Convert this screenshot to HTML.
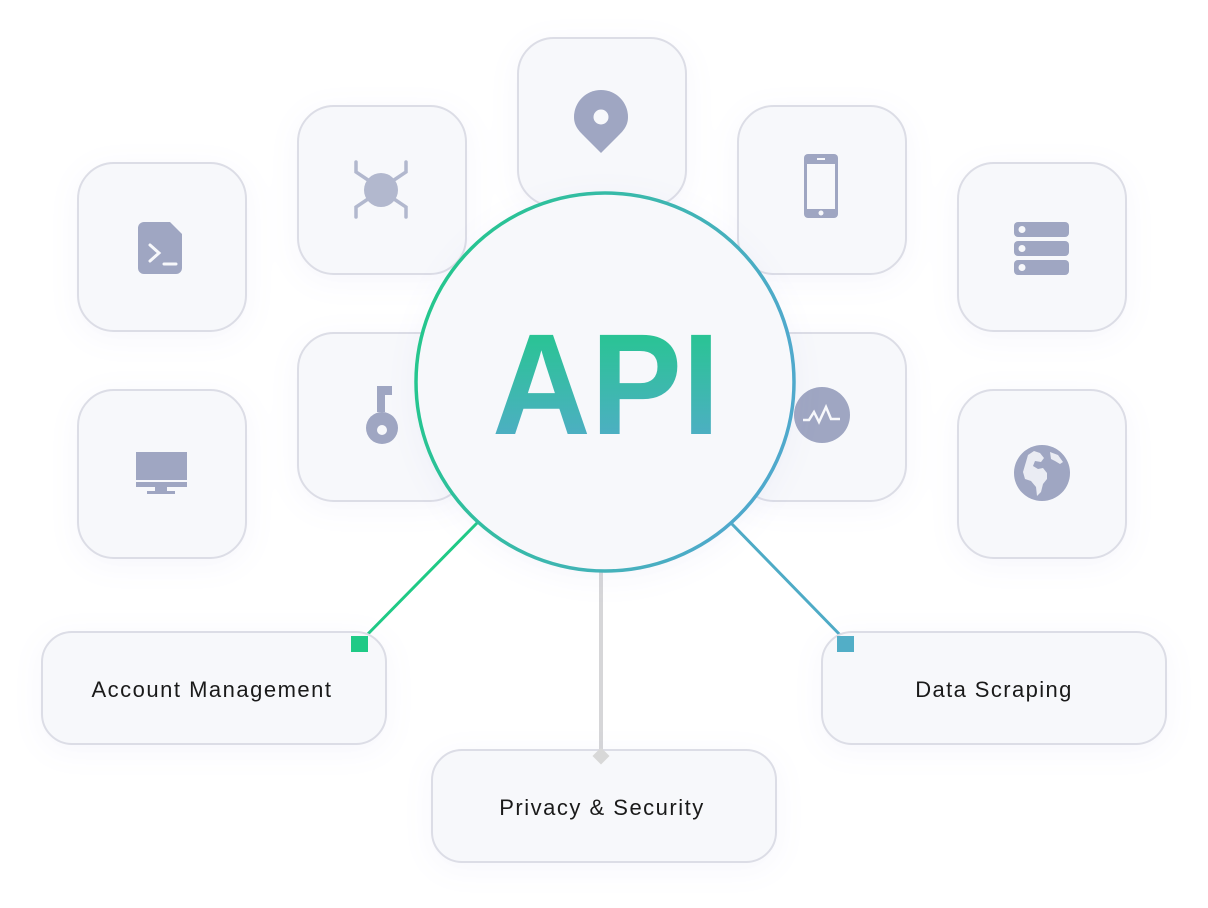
<!DOCTYPE html>
<html><head><meta charset="utf-8"><style>
html,body{margin:0;padding:0;background:#fff;}
svg{display:block}
text{font-family:"Liberation Sans",sans-serif;}
</style></head><body>
<svg width="1208" height="908" viewBox="0 0 1208 908" xmlns="http://www.w3.org/2000/svg">
<defs>
<filter id="sh" x="-30%" y="-30%" width="160%" height="160%"><feGaussianBlur in="SourceAlpha" stdDeviation="14"/><feOffset dy="6"/><feComponentTransfer><feFuncA type="linear" slope="0.1"/></feComponentTransfer><feColorMatrix type="matrix" values="0 0 0 0 0.35 0 0 0 0 0.35 0 0 0 0 0.7 0 0 0 1 0"/><feMerge><feMergeNode/><feMergeNode in="SourceGraphic"/></feMerge></filter>
<linearGradient id="cg" x1="0" y1="0" x2="1" y2="0.3"><stop offset="0" stop-color="#1fca86"/><stop offset="1" stop-color="#50a9cc"/></linearGradient>
<linearGradient id="tg" x1="0" y1="0" x2="0" y2="1"><stop offset="0" stop-color="#1fca86"/><stop offset="1" stop-color="#57a9d0"/></linearGradient>
<g id="card"><rect x="0" y="0" width="168" height="168" rx="36" fill="#f7f8fb" stroke="#dcdde6" stroke-width="2"/></g>
</defs>
<g filter="url(#sh)">
<use href="#card" x="78" y="163"/>
<use href="#card" x="78" y="390"/>
<use href="#card" x="298" y="106"/>
<use href="#card" x="298" y="333"/>
<use href="#card" x="518" y="38"/>
<use href="#card" x="738" y="106"/>
<use href="#card" x="738" y="333"/>
<use href="#card" x="958" y="163"/>
<use href="#card" x="958" y="390"/>
</g>
<g fill="#9fa6c2">
<path d="M144 222h26l12 12v34a6 6 0 0 1-6 6h-32a6 6 0 0 1-6-6v-40a6 6 0 0 1 6-6z"/>
<path d="M150 245l9 8-9 8M164 264h12" stroke="#f7f8fb" stroke-width="3" fill="none" stroke-linecap="round"/>
<rect x="136" y="452" width="51" height="28"/><rect x="136" y="482" width="51" height="5"/><rect x="147" y="491" width="28" height="3"/><rect x="155" y="487" width="12" height="4"/>
<circle cx="381" cy="190" r="17" fill="#b2b8ce"/>
<path d="M356 162v10l12 8M406 162v10l-12 8M356 217v-10l12-8M406 217v-10l-12-8" stroke="#b2b8ce" stroke-width="3.5" fill="none" stroke-linecap="round"/>
<path d="M601 90a27 27 0 0 1 27 27c0 9-5 14-10 19l-17 17-17-17c-5-5-10-10-10-19a27 27 0 0 1 27-27z"/>
<circle cx="601" cy="117" r="7.5" fill="#f7f8fb"/>
<rect x="377" y="386" width="8" height="26"/><rect x="377" y="386" width="15" height="9"/>
<circle cx="382" cy="428" r="16"/><circle cx="382" cy="430" r="5" fill="#f7f8fb"/>
<rect x="804" y="154" width="34" height="64" rx="4"/><rect x="807" y="164" width="28" height="45" fill="#f7f8fb"/><circle cx="821" cy="213" r="2.5" fill="#f7f8fb"/><rect x="817" y="158" width="8" height="2" fill="#f7f8fb"/>
<circle cx="822" cy="415" r="28"/>
<path d="M803 420l6 0 5-8 5 10 7-15 5 12h9" stroke="#f7f8fb" stroke-width="2.5" fill="none"/>
<rect x="1014" y="222" width="55" height="15" rx="4"/><rect x="1014" y="241" width="55" height="15" rx="4"/><rect x="1014" y="260" width="55" height="15" rx="4"/>
<circle cx="1022" cy="229.5" r="3.5" fill="#f7f8fb"/><circle cx="1022" cy="248.5" r="3.5" fill="#f7f8fb"/><circle cx="1022" cy="267.5" r="3.5" fill="#f7f8fb"/>
<circle cx="1042" cy="473" r="28"/>
<path d="M1028 455l6-4 6 2 4 5-3 4-6-1-2 5 5 3 5-1 4 5 0 6-4 5-2 8-4 4-1-9-5-6-6-2-2-7z" fill="#f7f8fb" opacity="0.85"/>
<path d="M1050 452l8 3 5 7-3 2-5-3-4-2z" fill="#f7f8fb" opacity="0.85"/>
</g>
<line x1="478" y1="522" x2="362" y2="640" stroke="#1fca86" stroke-width="3"/>
<line x1="730" y1="522" x2="845" y2="640" stroke="#4eabc6" stroke-width="3"/>
<line x1="601" y1="572" x2="601" y2="752" stroke="#d6d6d8" stroke-width="4"/>
<circle cx="605" cy="382" r="189" fill="#f7f8fb" stroke="url(#cg)" stroke-width="3.5" filter="url(#sh)"/>
<text x="492" y="434" font-size="144" font-weight="bold" fill="url(#tg)" textLength="228" lengthAdjust="spacingAndGlyphs">API</text>
<g filter="url(#sh)">
<rect x="42" y="632" width="344" height="112" rx="30" fill="#f7f8fb" stroke="#dcdde6" stroke-width="2"/>
<rect x="822" y="632" width="344" height="112" rx="30" fill="#f7f8fb" stroke="#dcdde6" stroke-width="2"/>
<rect x="432" y="750" width="344" height="112" rx="30" fill="#f7f8fb" stroke="#dcdde6" stroke-width="2"/>
</g>
<rect x="351" y="636" width="17" height="16" fill="#1fca86"/>
<rect x="837" y="636" width="17" height="16" fill="#52aec7"/>
<rect x="595" y="750" width="12" height="12" fill="#d8d8d8" transform="rotate(45 601 756)"/>
<text x="212" y="697" font-size="22" fill="#1a1a1a" text-anchor="middle" letter-spacing="1.5">Account Management</text>
<text x="994" y="697" font-size="22" fill="#1a1a1a" text-anchor="middle" letter-spacing="1.4">Data Scraping</text>
<text x="602" y="815" font-size="22" fill="#1a1a1a" text-anchor="middle" letter-spacing="1.5">Privacy &amp; Security</text>
</svg>
</body></html>
